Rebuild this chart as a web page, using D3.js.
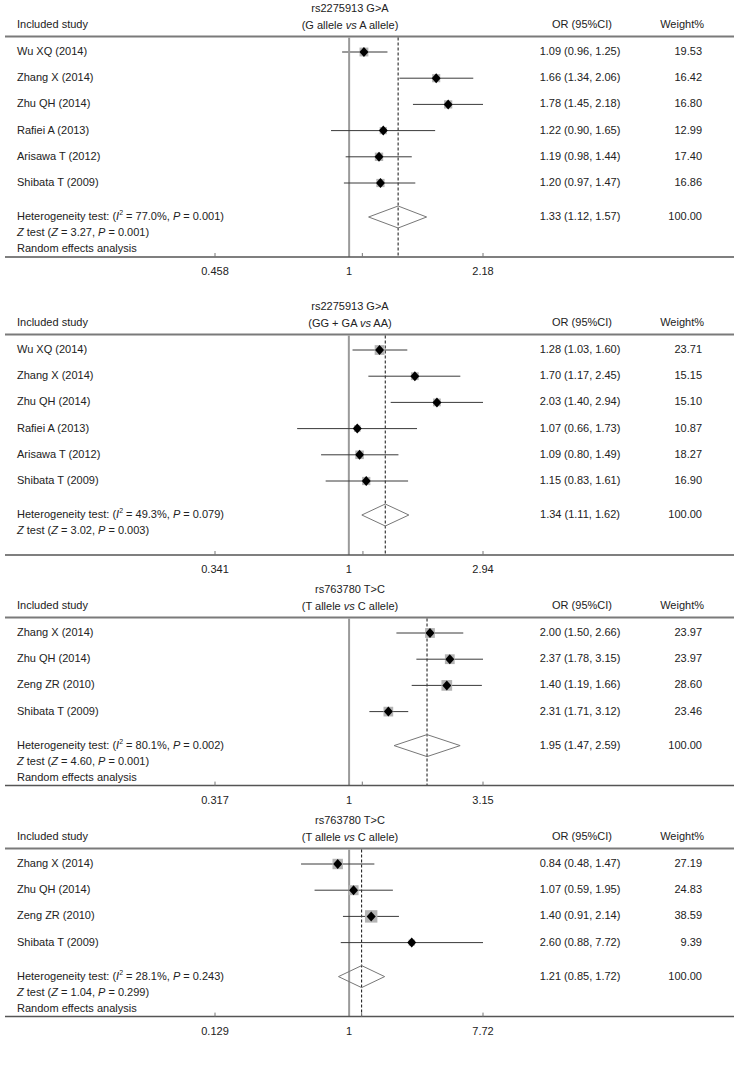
<!DOCTYPE html>
<html><head><meta charset="utf-8">
<script src="https://cdn.jsdelivr.net/npm/d3@7"></script>
<style>
body{margin:0;background:#fff}
text{font-family:"Liberation Sans",Arial,sans-serif;font-size:11px;fill:#222}
</style>
</head><body>
<svg id="c" width="742" height="1069"></svg>
<script>
// ---------- data ----------
const titles1 = ["rs2275913 G>A", "G allele|A allele"];
const titles2 = ["rs2275913 G>A", "GG + GA|AA"];
const titles3 = ["rs763780 T>C", "T allele|C allele"];
const titles4 = ["rs763780 T>C", "T allele|C allele"];

const studiesA = ["Wu XQ (2014)", "Zhang X (2014)", "Zhu QH (2014)", "Rafiei A (2013)", "Arisawa T (2012)", "Shibata T (2009)"];
const studiesB = ["Zhang X (2014)", "Zhu QH (2014)", "Zeng ZR (2010)", "Shibata T (2009)"];

const or1 = [1.09, 1.66, 1.78, 1.22, 1.19, 1.20];
const lo1 = [0.96, 1.34, 1.45, 0.90, 0.98, 0.97];
const hi1 = [1.25, 2.06, 2.18, 1.65, 1.44, 1.47];
const wt1 = ["19.53", "16.42", "16.80", "12.99", "17.40", "16.86"];
const pooled1 = [1.33, 1.12, 1.57];

const or2 = [1.28, 1.70, 2.03, 1.07, 1.09, 1.15];
const lo2 = [1.03, 1.17, 1.40, 0.66, 0.80, 0.83];
const hi2 = [1.60, 2.45, 2.94, 1.73, 1.49, 1.61];
const wt2 = ["23.71", "15.15", "15.10", "10.87", "18.27", "16.90"];
const pooled2 = [1.34, 1.11, 1.62];

const or3 = [2.00, 2.37, 1.40, 2.31];
const lo3 = [1.50, 1.78, 1.19, 1.71];
const hi3 = [2.66, 3.15, 1.66, 3.12];
const wt3 = ["23.97", "23.97", "28.60", "23.46"];
const pooled3 = [1.95, 1.47, 2.59];
// plotted marks in panel 3 (rows 3 and 4 appear swapped in the figure)
const plotOr3 = [2.00, 2.37, 2.31, 1.40];
const plotLo3 = [1.50, 1.78, 1.71, 1.19];
const plotHi3 = [2.66, 3.15, 3.12, 1.66];

const or4 = [0.84, 1.07, 1.40, 2.60];
const lo4 = [0.48, 0.59, 0.91, 0.88];
const hi4 = [1.47, 1.95, 2.14, 7.72];
const wt4 = ["27.19", "24.83", "38.59", "9.39"];
const pooled4 = [1.21, 0.85, 1.72];

const het1 = ["77.0%", "0.001", "3.27", "0.001"];
const het2 = ["49.3%", "0.079", "3.02", "0.003"];
const het3 = ["80.1%", "0.002", "4.60", "0.001"];
const het4 = ["28.1%", "0.243", "1.04", "0.299"];

const ticks1 = [0.458, 1, 2.18];
const ticks2 = [0.341, 1, 2.94];
const ticks3 = [0.317, 1, 3.15];
const ticks4 = [0.129, 1, 7.72];
const tickLabels1 = ["0.458", "1", "2.18"];
const tickLabels2 = ["0.341", "1", "2.94"];
const tickLabels3 = ["0.317", "1", "3.15"];
const tickLabels4 = ["0.129", "1", "7.72"];
const minorTick = [1.08, 1.12, 1.12, 1.21];
const randomNote = [true, false, true, true];

// ---------- drawing ----------
const svg = d3.select("#c");
const f2 = d3.format(".2f");

function drawPanel(p) {
  const g = svg.append("g");
  const t = p.top;
  const x = d3.scaleLog().domain([p.ticks[0], p.ticks[2]]).range([215, 483]);
  const rowY = i => t + 43 + i * 26.2;
  const n = p.studies.length;
  const lastY = rowY(n - 1);
  const hetY = lastY + 34;
  const axisY = lastY + 74;
  const lineY = t + 27.5;

  // titles
  g.append("text").attr("x", 350).attr("y", t).attr("text-anchor", "middle")
    .attr("dominant-baseline", "middle").text(p.title[0]);
  const parts = p.title[1].split("|");
  const st = g.append("text").attr("x", 350).attr("y", t + 16.5).attr("text-anchor", "middle")
    .attr("dominant-baseline", "middle");
  st.append("tspan").text("(" + parts[0] + " ");
  st.append("tspan").attr("font-style", "italic").text("vs");
  st.append("tspan").text(" " + parts[1] + ")");

  // headers
  g.append("text").attr("x", 17).attr("y", t + 16.5).attr("dominant-baseline", "middle").text("Included study");
  g.append("text").attr("x", 582).attr("y", t + 16.5).attr("text-anchor", "middle").attr("dominant-baseline", "middle").text("OR (95%CI)");
  g.append("text").attr("x", 704).attr("y", t + 16.5).attr("text-anchor", "end").attr("dominant-baseline", "middle").text("Weight%");
  g.append("line").attr("x1", 5).attr("x2", 734).attr("y1", lineY).attr("y2", lineY)
    .attr("stroke", "#7a7a7a").attr("stroke-width", 2);

  // null line
  g.append("line").attr("x1", x(1)).attr("x2", x(1)).attr("y1", lineY + 1).attr("y2", axisY)
    .attr("stroke", "#9a9a9a").attr("stroke-width", 2);
  // pooled dashed line
  g.append("line").attr("x1", x(p.pooled[0])).attr("x2", x(p.pooled[0])).attr("y1", lineY + 1).attr("y2", axisY)
    .attr("stroke", "#111").attr("stroke-width", 1).attr("stroke-dasharray", "3,2");

  // study rows
  p.studies.forEach((s, i) => {
    const y = rowY(i);
    g.append("text").attr("x", 17).attr("y", y).attr("dominant-baseline", "middle").text(s);
    g.append("text").attr("x", 580).attr("y", y).attr("text-anchor", "middle").attr("dominant-baseline", "middle")
      .text(f2(p.or[i]) + " (" + f2(p.lo[i]) + ", " + f2(p.hi[i]) + ")");
    g.append("text").attr("x", 702).attr("y", y).attr("text-anchor", "end").attr("dominant-baseline", "middle").text(p.wt[i]);
    const grayLine = p.grayFirst && i === 0;
    g.append("line").attr("x1", x(p.plo[i])).attr("x2", x(p.phi[i])).attr("y1", y).attr("y2", y)
      .attr("stroke", grayLine ? "#9a9a9a" : "#3a3a3a").attr("stroke-width", grayLine ? 2 : 1);
    const b = 2.0 * Math.sqrt(+p.wt[i]);
    g.append("rect").attr("x", x(p.por[i]) - b / 2).attr("y", y - b / 2).attr("width", b).attr("height", b)
      .attr("fill", "#b4b4b4");
    const cx = x(p.por[i]);
    g.append("path").attr("d", `M${cx},${y - 5}L${cx + 4.5},${y}L${cx},${y + 5}L${cx - 4.5},${y}Z`).attr("fill", "#000");
  });

  // pooled diamond
  const dx0 = x(p.pooled[1]), dx1 = x(p.pooled[2]), dc = x(p.pooled[0]);
  g.append("path").attr("d", `M${dx0},${hetY}L${dc},${hetY - 11}L${dx1},${hetY}L${dc},${hetY + 11}Z`)
    .attr("fill", "none").attr("stroke", "#777").attr("stroke-width", 1);
  g.append("text").attr("x", 580).attr("y", hetY).attr("text-anchor", "middle").attr("dominant-baseline", "middle")
    .text(f2(p.pooled[0]) + " (" + f2(p.pooled[1]) + ", " + f2(p.pooled[2]) + ")");
  g.append("text").attr("x", 702).attr("y", hetY).attr("text-anchor", "end").attr("dominant-baseline", "middle").text("100.00");

  // heterogeneity text
  const h = g.append("text").attr("x", 17).attr("y", hetY).attr("dominant-baseline", "middle");
  h.append("tspan").text("Heterogeneity test: (");
  h.append("tspan").attr("font-style", "italic").text("I");
  h.append("tspan").attr("font-size", "7px").attr("dy", -4).text("2");
  h.append("tspan").attr("dy", 4).text(" = " + p.het[0] + ", ");
  h.append("tspan").attr("font-style", "italic").text("P");
  h.append("tspan").text(" = " + p.het[1] + ")");
  const z = g.append("text").attr("x", 17).attr("y", hetY + 16).attr("dominant-baseline", "middle");
  z.append("tspan").attr("font-style", "italic").text("Z");
  z.append("tspan").text(" test (");
  z.append("tspan").attr("font-style", "italic").text("Z");
  z.append("tspan").text(" = " + p.het[2] + ", ");
  z.append("tspan").attr("font-style", "italic").text("P");
  z.append("tspan").text(" = " + p.het[3] + ")");
  if (p.random) {
    g.append("text").attr("x", 17).attr("y", hetY + 32).attr("dominant-baseline", "middle").text("Random effects analysis");
  }

  // axis
  g.append("line").attr("x1", 5).attr("x2", 734).attr("y1", axisY).attr("y2", axisY)
    .attr("stroke", "#555").attr("stroke-width", 1.5);
  [p.ticks[0], p.minor, p.ticks[2]].forEach(v => {
    g.append("line").attr("x1", x(v)).attr("x2", x(v)).attr("y1", axisY - 4).attr("y2", axisY)
      .attr("stroke", "#777").attr("stroke-width", 1);
  });
  p.ticks.forEach((v, i) => {
    g.append("text").attr("x", x(v)).attr("y", axisY + 15).attr("text-anchor", "middle")
      .attr("dominant-baseline", "middle").text(p.tickLabels[i]);
  });
}

drawPanel({top: 9, title: titles1, studies: studiesA, or: or1, lo: lo1, hi: hi1, por: or1, plo: lo1, phi: hi1,
  wt: wt1, pooled: pooled1, het: het1, ticks: ticks1, tickLabels: tickLabels1, minor: minorTick[0], random: randomNote[0], grayFirst: true});
drawPanel({top: 307, title: titles2, studies: studiesA, or: or2, lo: lo2, hi: hi2, por: or2, plo: lo2, phi: hi2,
  wt: wt2, pooled: pooled2, het: het2, ticks: ticks2, tickLabels: tickLabels2, minor: minorTick[1], random: randomNote[1]});
drawPanel({top: 590, title: titles3, studies: studiesB, or: or3, lo: lo3, hi: hi3, por: plotOr3, plo: plotLo3, phi: plotHi3,
  wt: wt3, pooled: pooled3, het: het3, ticks: ticks3, tickLabels: tickLabels3, minor: minorTick[2], random: randomNote[2]});
drawPanel({top: 821, title: titles4, studies: studiesB, or: or4, lo: lo4, hi: hi4, por: or4, plo: lo4, phi: hi4,
  wt: wt4, pooled: pooled4, het: het4, ticks: ticks4, tickLabels: tickLabels4, minor: minorTick[3], random: randomNote[3]});
</script>
</body></html>
